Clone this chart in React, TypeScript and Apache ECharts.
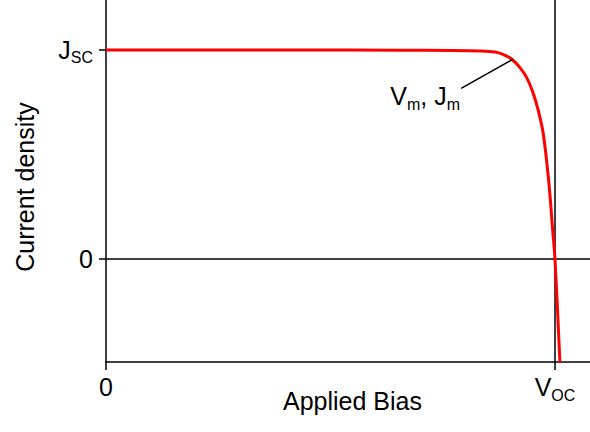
import React, { useEffect, useRef } from "react";
import * as echarts from "echarts";

// J-V curve (x: bias normalised to Voc, y: current density normalised to Jsc)
const biasValues = [0, 0.432, 0.655, 0.766, 0.833, 0.866, 0.884, 0.904, 0.922, 0.937, 0.952, 0.963, 0.974, 0.986, 0.995, 1.0, 1.011];
const currentValues = [1.0, 1.0, 0.9986, 0.9976, 0.9952, 0.9904, 0.9794, 0.9555, 0.9154, 0.8675, 0.7895, 0.7081, 0.5981, 0.3732, 0.134, 0, -0.4928];

// axis ticks
const xTickValues = [0, 1];
const xTickLabels = ["{a|0}", "{a|V}{b|OC}"];
const yTickValues = [0, 1];
const yTickLabels = ["{a|0}", "{a|J}{b|SC}"];

// max power point annotation: point on curve, leader end
const leaderX = [0.906, 0.792];
const leaderY = [0.955, 0.817];
const annotationText = "{a|V}{m|m}{a|, J}{m|m}";

const xName = "Applied Bias";
const yName = "Current density";

const FONT = "Arial, 'Liberation Sans', sans-serif";

const rich = {
  a: { fontSize: 25, lineHeight: 32, fontFamily: FONT, color: "#000", verticalAlign: "middle" },
  b: { fontSize: 16, lineHeight: 8, fontFamily: FONT, color: "#000", verticalAlign: "bottom" },
  m: { fontSize: 16, lineHeight: 6, fontFamily: FONT, color: "#000", verticalAlign: "bottom" },
};

export default function App() {
  const ref = useRef<HTMLDivElement>(null);
  useEffect(() => {
    if (!ref.current) return;
    const chart = echarts.init(ref.current, null, { renderer: "svg" });
    const curve = biasValues.map((x, i) => [x, currentValues[i]]);
    const leader = leaderX.map((x, i) => [x, leaderY[i]]);
    chart.setOption({
      animation: false,
      backgroundColor: "#fff",
      grid: { left: 106, right: 0, top: 0, bottom: 70, containLabel: false, outerBoundsMode: "none" },
      xAxis: {
        type: "value",
        min: 0,
        max: 1.078,
        name: xName,
        nameLocation: "middle",
        nameGap: 26,
        nameMoveOverlap: false,
        nameTextStyle: { fontSize: 25, fontFamily: FONT, color: "#000", padding: [0, 0, 0, 9] },
        axisLine: { onZero: false, lineStyle: { color: "#000", width: 1.5 } },
        axisTick: { show: true, length: 8, customValues: xTickValues, lineStyle: { color: "#000", width: 1.5 } },
        axisLabel: {
          customValues: xTickValues,
          margin: 9,
          formatter: (v: number) => xTickLabels[xTickValues.indexOf(v)] ?? "",
          rich,
        },
        splitLine: { show: false },
      },
      yAxis: {
        type: "value",
        min: -0.493,
        max: 1.239,
        name: yName,
        nameLocation: "middle",
        nameGap: 69,
        nameMoveOverlap: false,
        nameRotate: 90,
        nameTextStyle: { fontSize: 25, fontFamily: FONT, color: "#000", padding: [0, 12, 0, 0] },
        axisLine: { onZero: false, lineStyle: { color: "#000", width: 1.5 } },
        axisTick: { show: true, length: 7, customValues: yTickValues, lineStyle: { color: "#000", width: 1.5 } },
        axisLabel: {
          customValues: yTickValues,
          margin: 13,
          formatter: (v: number) => yTickLabels[yTickValues.indexOf(v)] ?? "",
          rich,
        },
        splitLine: { show: false },
      },
      series: [
        {
          type: "line",
          data: curve,
          smooth: 0.35,
          symbol: "none",
          lineStyle: { color: "#ff0000", width: 3 },
          z: 3,
          markLine: {
            silent: true,
            symbol: "none",
            label: { show: false },
            lineStyle: { color: "#000", width: 1.5, type: "solid" },
            data: [{ yAxis: 0 }, { xAxis: 1 }],
            z: 2,
          },
        },
        {
          type: "line",
          data: [
            leader[0],
            {
              value: leader[1],
              label: {
                show: true,
                position: "left",
                distance: 1,
                offset: [0, 8],
                formatter: annotationText,
                rich,
              },
            },
          ],
          symbol: "circle",
          symbolSize: 1,
          showSymbol: true,
          itemStyle: { color: "#000" },
          lineStyle: { color: "#000", width: 1.5 },
          z: 4,
        },
      ],
    });
    return () => chart.dispose();
  }, []);
  return <div ref={ref} style={{ width: 590, height: 432, position: "absolute", left: 0, top: 0 }} />;
}
